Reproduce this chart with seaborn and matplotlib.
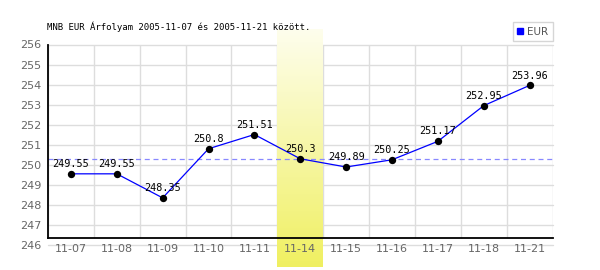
import numpy as np
import pandas as pd
import matplotlib
matplotlib.use("Agg")
import matplotlib.pyplot as plt
from matplotlib.lines import Line2D
import seaborn as sns

dates = ["11-07", "11-08", "11-09", "11-10", "11-11", "11-14",
         "11-15", "11-16", "11-17", "11-18", "11-21"]
rates = [249.55, 249.55, 248.35, 250.8, 251.51, 250.3,
         249.89, 250.25, 251.17, 252.95, 253.96]
value_labels = ["249.55", "249.55", "248.35", "250.8", "251.51", "250.3",
                "249.89", "250.25", "251.17", "252.95", "253.96"]
highlight_index = 5
reference_rate = 250.3
y_ticks = list(range(246, 257))
title = "MNB EUR Árfolyam 2005-11-07 és 2005-11-21 között."
series_name = "EUR"

axis_level = 246.33

df = pd.DataFrame({"pos": np.arange(len(dates)), "rate": rates})

sns.set_theme(style="white")
plt.rcParams["font.family"] = ["DejaVu Sans"]

fig = plt.figure(figsize=(6, 2.7), dpi=100)
ax = fig.add_axes([48 / 600, 25 / 270, 504.5 / 600, 200.5 / 270])
ax.set_axisbelow(False)
ax.patch.set_alpha(0)
n = len(dates)
ax.set_xlim(-0.5, n - 0.5)
ax.set_ylim(246, 256)

# grid lines (below the highlight band)
for yv in y_ticks:
    ax.axhline(yv, color="#dddddd", linewidth=1, zorder=0.5, clip_on=False)
ax.vlines(np.arange(n + 1) - 0.5, axis_level, 256, color="#dddddd",
          linewidth=1, zorder=0.5)

ax.set_yticks(y_ticks)
ax.set_xticks(np.arange(n))
ax.set_xticklabels(dates)
ax.tick_params(axis="x", length=0, pad=4, labelsize=8, labelcolor="#666666")
ax.tick_params(axis="y", length=0, pad=5, labelsize=8, labelcolor="#666666")

# highlight band (gradient)
grad = np.linspace(0, 1, 256)
top = np.array([0.995, 0.995, 0.93])
bot = np.array([0.94, 0.94, 0.38])
img = (top[None, :] + (bot - top)[None, :] * grad[:, None]).reshape(256, 1, 3)
ax.imshow(img, extent=(highlight_index - 0.5, highlight_index + 0.5, 244.9, 256.77),
          aspect="auto", origin="upper", zorder=1, clip_on=False,
          interpolation="bilinear")
ax.set_xlim(-0.5, n - 0.5)
ax.set_ylim(246, 256)

# reference dashed line
ax.axhline(reference_rate, color="#8888ff", linewidth=0.9, linestyle=(0, (4, 3)), zorder=1.5)

sns.lineplot(data=df, x="pos", y="rate", ax=ax, color="#0000ff", linewidth=0.9, zorder=2)
sns.scatterplot(data=df, x="pos", y="rate", ax=ax, color="black", s=28,
                edgecolor="black", linewidth=0, zorder=3)
ax.set_xlabel("")
ax.set_ylabel("")

for i, (v, lab) in enumerate(zip(rates, value_labels)):
    ax.annotate(lab, (i, v), xytext=(0, 3.5), textcoords="offset points",
                ha="center", va="bottom", fontsize=7.3, family="DejaVu Sans Mono",
                color="black", zorder=4)

for s in ["top", "right"]:
    ax.spines[s].set_visible(False)
ax.spines["bottom"].set_position(("data", axis_level))
ax.spines["left"].set_bounds(axis_level, 256)
for s in ["left", "bottom"]:
    ax.spines[s].set_color("black")
    ax.spines[s].set_linewidth(1.3)
    ax.spines[s].set_zorder(2.5)
ax.xaxis.set_zorder(3)
ax.yaxis.set_zorder(3)

fig.text(47 / 600, 1 - 27 / 270, title, fontsize=6.5, family="DejaVu Sans Mono",
         ha="left", va="center", color="black")

handle = Line2D([], [], marker="s", color="#0000ff", linestyle="none", markersize=5)
leg = fig.legend([handle], [series_name], loc="upper right",
                 bbox_to_anchor=(552.5 / 600, 1 - 22 / 270), borderaxespad=0,
                 frameon=True, fancybox=False, fontsize=7.5, handlelength=0.6,
                 handletextpad=0.3, borderpad=0.45, labelcolor="#555555")
leg.get_frame().set_edgecolor("#cccccc")
leg.get_frame().set_linewidth(1)

fig.savefig("out.png", dpi=100)
